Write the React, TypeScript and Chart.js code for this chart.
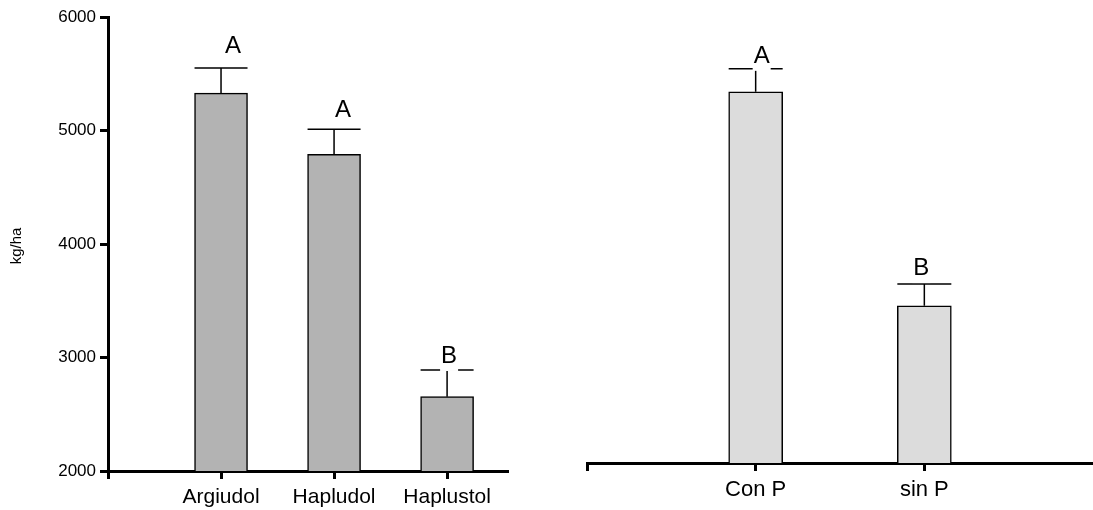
import React, { useEffect, useRef } from 'react';
import { Chart, registerables } from 'chart.js';

Chart.register(...registerables);

// Yield by soil type (kg/ha): mean and mean + SE
const soilTypes = ['Argiudol', 'Hapludol', 'Haplustol'];
const soilYield = [5330, 4790, 2655];
const soilYieldUpper = [5550, 5010, 2890];
const soilLetters = ['A', 'A', 'B'];

// Yield by phosphorus treatment (kg/ha): mean and mean + SE
const phosTreatments = ['Con P', 'sin P'];
const phosYield = [5330, 3410];
const phosYieldUpper = [5535, 3605];
const phosLetters = ['A', 'B'];

const yTicks = [2000, 3000, 4000, 5000, 6000];

const FONT = '"Liberation Sans", Arial, Helvetica, sans-serif';

type PanelSpec = {
  categories: string[];
  values: number[];
  upper: number[];
  letters: string[];
  letterShift: number[]; // horizontal nudge of each letter, px
  letterGap: number[]; // baseline distance above the error cap, px
  fill: string;
  barWidth: number;
  xMax: number;
  showY: boolean;
  padding: { left: number; right: number; top: number; bottom: number };
  yAxisWidth: number;
  xAxisHeight: number;
  labelSize: number;
  yTitle?: { text: string; x: number; y: number };
};

function annotationPlugin(spec: PanelSpec) {
  return {
    id: 'meanSeAnnotations',
    afterDatasetsDraw(chart: any) {
      const ctx = chart.ctx as CanvasRenderingContext2D;
      const meta = chart.getDatasetMeta(0);
      const yScale = chart.scales.y;
      ctx.save();
      ctx.strokeStyle = '#000';
      ctx.lineWidth = 1.5;
      meta.data.forEach((bar: any, i: number) => {
        const x = bar.x;
        const top = bar.y;
        const cap = yScale.getPixelForValue(spec.upper[i]);
        const half = spec.barWidth / 2;
        ctx.beginPath();
        ctx.moveTo(x, top);
        ctx.lineTo(x, cap);
        ctx.moveTo(x - half, cap);
        ctx.lineTo(x + half, cap);
        ctx.stroke();
      });
      ctx.restore();
    },
    afterDraw(chart: any) {
      const ctx = chart.ctx as CanvasRenderingContext2D;
      const meta = chart.getDatasetMeta(0);
      const yScale = chart.scales.y;
      ctx.save();
      ctx.font = `24px ${FONT}`;
      ctx.textAlign = 'center';
      ctx.textBaseline = 'alphabetic';
      meta.data.forEach((bar: any, i: number) => {
        const t = spec.letters[i];
        const cap = yScale.getPixelForValue(spec.upper[i]);
        const x = bar.x + spec.letterShift[i];
        const base = cap - spec.letterGap[i];
        const w = ctx.measureText(t).width;
        ctx.fillStyle = '#fff';
        ctx.fillRect(x - w / 2 - 1, base - 19, w + 2, 27);
        ctx.fillStyle = '#000';
        ctx.fillText(t, x, base);
      });
      if (spec.yTitle) {
        ctx.translate(spec.yTitle.x, spec.yTitle.y);
        ctx.rotate(-Math.PI / 2);
        ctx.font = `15px ${FONT}`;
        ctx.textBaseline = 'middle';
        ctx.fillText(spec.yTitle.text, 0, 0);
      }
      ctx.restore();
    },
  };
}

function Panel({ spec, width, height }: { spec: PanelSpec; width: number; height: number }) {
  const ref = useRef<HTMLCanvasElement | null>(null);

  useEffect(() => {
    if (!ref.current) return;
    const tickPositions = [0, ...spec.categories.map((_, i) => i + 1)];
    const chart = new Chart(ref.current, {
      type: 'bar',
      data: {
        datasets: [
          {
            data: spec.values.map((v, i) => ({ x: i + 1, y: v })),
            backgroundColor: spec.fill,
            borderColor: '#000',
            borderWidth: 1.5,
            borderSkipped: false,
            barThickness: spec.barWidth,
          },
        ],
      },
      options: {
        responsive: false,
        animation: false,
        devicePixelRatio: 1,
        layout: { padding: spec.padding },
        plugins: { legend: { display: false }, tooltip: { enabled: false } },
        scales: {
          x: {
            type: 'linear',
            min: 0,
            max: spec.xMax,
            offset: false,
            z: 1,
            afterBuildTicks: (s: any) => {
              s.ticks = tickPositions.map((v) => ({ value: v }));
            },
            afterFit: (s: any) => {
              s.height = spec.xAxisHeight;
            },
            border: { display: true, color: '#000', width: 3 },
            grid: {
              display: true,
              offset: false,
              drawOnChartArea: false,
              drawTicks: true,
              tickLength: 8,
              color: '#000',
              lineWidth: 3,
            },
            ticks: {
              autoSkip: false,
              maxRotation: 0,
              padding: 6,
              color: '#000',
              font: { family: FONT, size: spec.labelSize },
              callback: (v: any) => spec.categories[Number(v) - 1] ?? '',
            },
          },
          y: {
            type: 'linear',
            display: spec.showY,
            min: 2000,
            max: 6000,
            z: 1,
            afterBuildTicks: (s: any) => {
              s.ticks = yTicks.map((v) => ({ value: v }));
            },
            afterFit: (s: any) => {
              if (spec.showY) s.width = spec.yAxisWidth;
            },
            border: { display: true, color: '#000', width: 3 },
            grid: {
              display: true,
              drawOnChartArea: false,
              drawTicks: true,
              tickLength: 8,
              color: '#000',
              lineWidth: 3,
            },
            ticks: {
              padding: 4,
              color: '#000',
              font: { family: FONT, size: 17 },
              callback: (v: any) => String(v),
            },
          },
        },
      },
      plugins: [annotationPlugin(spec)],
    } as any);
    return () => chart.destroy();
  }, [spec]);

  return <canvas ref={ref} width={width} height={height} style={{ display: 'block' }} />;
}

const soilPanel: PanelSpec = {
  categories: soilTypes,
  values: soilYield,
  upper: soilYieldUpper,
  letters: soilLetters,
  letterShift: [12, 9, 2],
  letterGap: [15, 12, 7],
  fill: '#b3b3b3',
  barWidth: 53,
  xMax: 3.53,
  showY: true,
  padding: { left: 0, right: 39, top: 17, bottom: 0 },
  yAxisWidth: 108,
  xAxisHeight: 39,
  labelSize: 21,
  yTitle: { text: 'kg/ha', x: 17, y: 246 },
};

const phosPanel: PanelSpec = {
  categories: phosTreatments,
  values: phosYield,
  upper: phosYieldUpper,
  letters: phosLetters,
  letterShift: [6, -3],
  letterGap: [6, 9],
  fill: '#dcdcdc',
  barWidth: 54,
  xMax: 3,
  showY: false,
  padding: { left: 41, right: 0, top: 17, bottom: 0 },
  yAxisWidth: 0,
  xAxisHeight: 47,
  labelSize: 22,
};

export default function App() {
  useEffect(() => {
    document.body.style.margin = '0';
  }, []);
  return (
    <div style={{ position: 'relative', width: 1093, height: 510, background: '#fff', overflow: 'hidden' }}>
      <div style={{ position: 'absolute', left: 0, top: 0 }}>
        <Panel spec={soilPanel} width={546} height={510} />
      </div>
      <div style={{ position: 'absolute', left: 546, top: 0 }}>
        <Panel spec={phosPanel} width={547} height={510} />
      </div>
    </div>
  );
}
